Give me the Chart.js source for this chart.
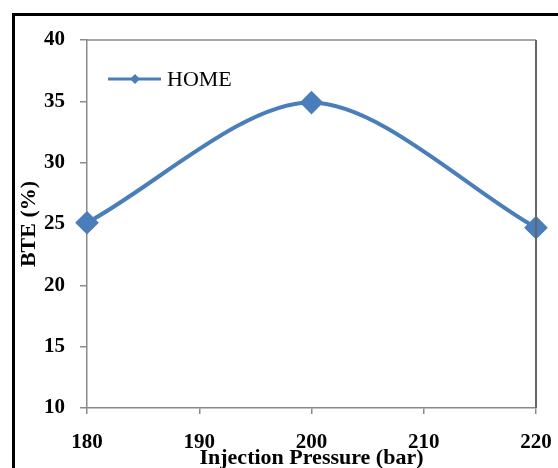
<!DOCTYPE html>
<html>
<head>
<meta charset="utf-8">
<script src="https://cdn.jsdelivr.net/npm/chart.js@4/dist/chart.umd.min.js"></script>
<style>
  html, body { margin: 0; padding: 0; background: #fff; }
  #wrap { width: 558px; height: 468px; position: relative; }
</style>
</head>
<body>
<div id="wrap"><canvas id="chart" width="558" height="468"></canvas></div>
<script>
// injection pressure (bar) and brake thermal efficiency (%)
const pressures = [180, 200, 220];
const bteHome = [25.1, 34.9, 24.7];
const seriesLabel = 'HOME';
const xTicks = [180, 190, 200, 210, 220];
const yTicks = [10, 15, 20, 25, 30, 35, 40];

const lineColor = '#4a7ebb';
const serif = "'Liberation Serif', 'Times New Roman', serif";

// outer frame, plot box and the legend sitting inside the plot
const framePlugin = {
  id: 'frame',
  beforeDraw(chart) {
    const ctx = chart.ctx;
    ctx.save();
    ctx.fillStyle = '#fff';
    ctx.fillRect(0, 0, chart.width, chart.height);
    ctx.strokeStyle = '#000';
    ctx.lineWidth = 3;
    ctx.strokeRect(13.5, 14.5, 700, 600);
    ctx.restore();
  },
  afterDatasetsDraw(chart) {
    const ctx = chart.ctx;
    const a = chart.chartArea;
    ctx.save();
    ctx.strokeStyle = '#8a8a8a';
    ctx.lineWidth = 1.5;
    ctx.beginPath();
    ctx.moveTo(a.left, a.top);
    ctx.lineTo(a.right, a.top);
    ctx.stroke();
    ctx.strokeStyle = '#666';
    ctx.lineWidth = 2;
    ctx.beginPath();
    ctx.moveTo(a.right, a.top);
    ctx.lineTo(a.right, a.bottom);
    ctx.stroke();

    // legend
    const ds = chart.data.datasets[0];
    const ly = a.top + 39;
    const lx = a.left + 21;
    ctx.strokeStyle = ds.borderColor;
    ctx.lineWidth = 3;
    ctx.beginPath();
    ctx.moveTo(lx, ly);
    ctx.lineTo(lx + 53, ly);
    ctx.stroke();
    ctx.fillStyle = ds.backgroundColor;
    ctx.beginPath();
    ctx.moveTo(lx + 27, ly - 5);
    ctx.lineTo(lx + 32, ly);
    ctx.lineTo(lx + 27, ly + 5);
    ctx.lineTo(lx + 22, ly);
    ctx.closePath();
    ctx.fill();
    ctx.fillStyle = '#000';
    ctx.font = '22px ' + serif;
    ctx.textBaseline = 'middle';
    ctx.fillText(ds.label, lx + 59, ly + 1);
    ctx.restore();
  }
};

new Chart(document.getElementById('chart').getContext('2d'), {
  type: 'line',
  data: {
    labels: pressures,
    datasets: [{
      label: seriesLabel,
      data: pressures.map((p, i) => ({x: p, y: bteHome[i]})),
      borderColor: lineColor,
      backgroundColor: lineColor,
      borderWidth: 4,
      tension: 0.3,
      pointStyle: 'rectRot',
      pointRadius: 9,
      pointHoverRadius: 9,
      clip: false
    }]
  },
  options: {
    responsive: false,
    animation: false,
    layout: {padding: {left: 13, right: 22, top: 40, bottom: 0}},
    plugins: {
      legend: {display: false},
      tooltip: {enabled: false}
    },
    scales: {
      x: {
        type: 'linear',
        min: 180,
        max: 220,
        afterBuildTicks: s => { s.ticks = xTicks.map(v => ({value: v})); },
        afterFit: s => { s.height = 60; s.paddingLeft = 0; s.paddingRight = 0; },
        ticks: {
          color: '#000',
          padding: 16,
          maxRotation: 0,
          font: {family: serif, size: 21, weight: 'bold'}
        },
        grid: {
          drawOnChartArea: false,
          drawTicks: true,
          tickLength: 6,
          color: '#8a8a8a',
          lineWidth: 1.5
        },
        border: {color: '#8a8a8a', width: 1.5},
        title: {
          display: true,
          text: 'Injection Pressure (bar)',
          color: '#000',
          padding: {top: 0, bottom: -4},
          font: {family: serif, size: 22, weight: 'bold'}
        }
      },
      y: {
        min: 10,
        max: 40,
        afterBuildTicks: s => { s.ticks = yTicks.map(v => ({value: v})); },
        afterFit: s => { s.width = 74; },
        ticks: {
          color: '#000',
          padding: 15,
          font: {family: serif, size: 21, weight: 'bold'}
        },
        grid: {
          drawOnChartArea: false,
          drawTicks: true,
          tickLength: 7,
          color: '#8a8a8a',
          lineWidth: 1.5
        },
        border: {color: '#8a8a8a', width: 1.5},
        title: {
          display: true,
          text: 'BTE (%)',
          color: '#000',
          padding: {top: 3, bottom: 0},
          font: {family: serif, size: 22, weight: 'bold'}
        }
      }
    }
  },
  plugins: [framePlugin]
});
</script>
</body>
</html>
